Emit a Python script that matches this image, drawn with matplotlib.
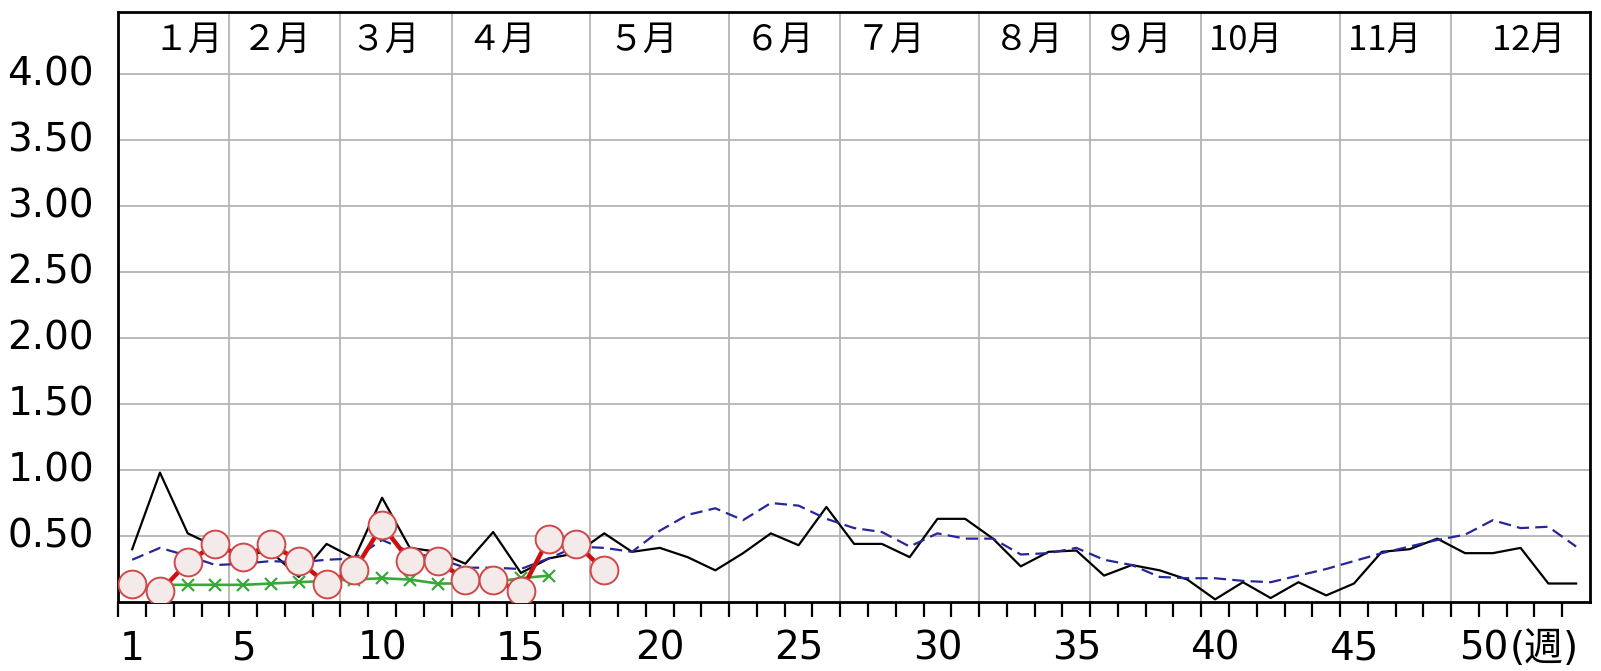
import matplotlib
matplotlib.use('Agg')
import matplotlib.pyplot as plt
from matplotlib import font_manager
from matplotlib.transforms import blended_transform_factory
import numpy as np

# ---------------- data ----------------
weeks_all = list(range(1, 54))
black_vals = [0.40, 0.98, 0.52, 0.42, 0.36, 0.38, 0.19, 0.44, 0.33, 0.79,
              0.41, 0.38, 0.29, 0.53, 0.22, 0.33, 0.37, 0.52, 0.38, 0.41,
              0.34, 0.24, 0.37, 0.52, 0.43, 0.72, 0.44, 0.44, 0.34, 0.63,
              0.63, 0.48, 0.27, 0.38, 0.39, 0.20, 0.28, 0.24, 0.17, 0.02,
              0.15, 0.03, 0.15, 0.05, 0.14, 0.38, 0.40, 0.48, 0.37, 0.37,
              0.41, 0.14, 0.14]
blue_vals = [0.32, 0.41, 0.35, 0.28, 0.29, 0.31, 0.30, 0.32, 0.33, 0.47,
             0.38, 0.33, 0.26, 0.26, 0.25, 0.33, 0.42, 0.41, 0.38, 0.54,
             0.66, 0.71, 0.62, 0.75, 0.73, 0.63, 0.56, 0.53, 0.42, 0.52,
             0.48, 0.48, 0.36, 0.37, 0.41, 0.32, 0.28, 0.19, 0.18, 0.18,
             0.16, 0.15, 0.20, 0.25, 0.31, 0.37, 0.42, 0.47, 0.51, 0.62,
             0.56, 0.57, 0.42]
red_weeks = list(range(1, 19))
red_vals = [0.14, 0.08, 0.30, 0.44, 0.34, 0.44, 0.31, 0.14, 0.24, 0.58,
            0.31, 0.31, 0.17, 0.17, 0.08, 0.48, 0.44, 0.24]
green_weeks = list(range(2, 17))
green_vals = [0.13, 0.13, 0.13, 0.13, 0.14, 0.15, 0.16, 0.17, 0.18, 0.17,
              0.14, 0.14, 0.15, 0.18, 0.20]

month_labels = ['１月', '２月', '３月', '４月', '５月', '６月', '７月', '８月',
                '９月', '10月', '11月', '12月']
month_label_pos = [3.0, 6.2, 10.1, 14.3, 19.4, 24.3, 28.3, 33.3, 37.2, 41.1, 46.1, 51.3]
month_bounds = [4.5, 8.5, 12.5, 17.5, 22.5, 26.5, 31.5, 35.5, 39.5, 44.5, 48.5]
y_ticks = [0.5, 1.0, 1.5, 2.0, 2.5, 3.0, 3.5, 4.0]
y_ticklabels = ['0.50', '1.00', '1.50', '2.00', '2.50', '3.00', '3.50', '4.00']
x_label_weeks = [1, 5, 10, 15, 20, 25, 30, 35, 40, 45]
x_labels = ['1', '5', '10', '15', '20', '25', '30', '35', '40', '45']
x_last_week = 50
x_last_label = '50'
x_unit = '(週)'


def pick_font(cands):
    for c in cands:
        try:
            font_manager.findfont(font_manager.FontProperties(family=c),
                                  fallback_to_default=False)
            return c
        except Exception:
            pass
    return 'DejaVu Sans'


num_font = pick_font(['Liberation Sans Narrow', 'DejaVu Sans Condensed', 'DejaVu Sans'])
num_size = 33 if num_font == 'Liberation Sans Narrow' else 28
cjk_font = 'Noto Sans CJK JP'

W, H = 1601, 671
fig = plt.figure(figsize=(W / 100, H / 100), dpi=100)
left, right, top, bottom = 118.3, 1590, 11.7, 602
ax = fig.add_axes([left / W, 1 - bottom / H, (right - left) / W, (bottom - top) / H])
ax.set_xlim(0.5, 53.5)
ax.set_ylim(0, (bottom - top) / ((bottom - 74) / 4.0))

grid_c = '#b4b4b4'
for y in y_ticks:
    ax.axhline(y, color=grid_c, lw=1.3, zorder=1)
for xb in month_bounds:
    ax.axvline(xb, color=grid_c, lw=1.3, zorder=1)

ax.plot(weeks_all, black_vals, color='black', lw=1.6, zorder=3)
ax.plot(weeks_all, blue_vals, color='#26269a', lw=1.6, ls=(0, (5.5, 2.8)), zorder=3)
ax.plot(green_weeks, green_vals, color='#38a838', lw=1.9, marker='x', ms=9,
        mew=1.6, zorder=4)
ax.plot(red_weeks, red_vals, color='#cc1010', lw=3.2, marker='o', ms=20,
        mfc='#f4eaea', mec='#d04848', mew=1.4, zorder=5)

for s in ax.spines.values():
    s.set_linewidth(2)
    s.set_color('black')

ax.set_xticks(np.arange(0.5, 53.0, 1.0))
ax.tick_params(axis='x', direction='out', length=11, width=1.6, labelbottom=False)
ax.set_yticks([])

tx = blended_transform_factory(ax.transData, ax.transAxes)
ty = blended_transform_factory(ax.transAxes, ax.transData)

base_y = (bottom - 660) / (bottom - top)
for w, lab in zip(x_label_weeks, x_labels):
    ax.text(w, base_y, lab, transform=tx, ha='center', va='baseline',
            fontsize=num_size, family=num_font, clip_on=False)
ax.text(x_last_week + 0.55, base_y, x_last_label, transform=tx, ha='right',
        va='baseline', fontsize=num_size, family=num_font, clip_on=False)
ax.text(x_last_week + 0.6, base_y, x_unit, transform=tx, ha='left', va='baseline',
        fontsize=num_size, family=[num_font, cjk_font], clip_on=False)

for y, lab in zip(y_ticks, y_ticklabels):
    ax.text(-0.0165, y, lab, transform=ty, ha='right', va='center',
            fontsize=num_size, family=num_font, clip_on=False)

for xp, lab in zip(month_label_pos, month_labels):
    ax.text(xp, 0.952, lab, transform=tx, ha='center', va='center',
            fontsize=25, family=[cjk_font, 'DejaVu Sans'], zorder=6)

fig.savefig('out.png', dpi=100)
